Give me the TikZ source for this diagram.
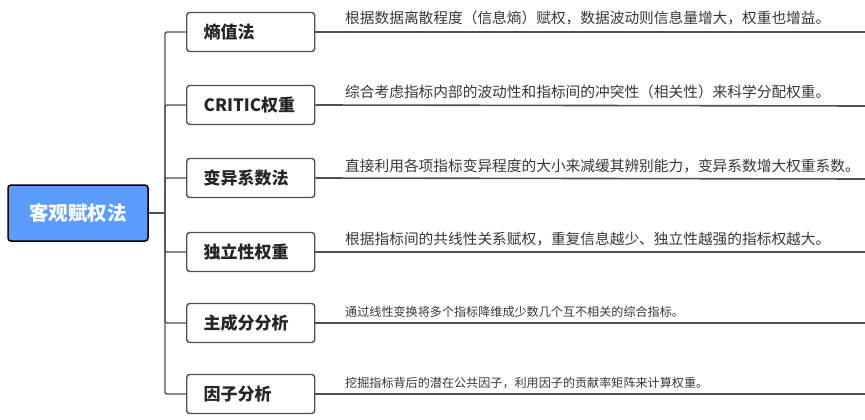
\documentclass[tikz,border=0pt]{standalone}
\usepackage{fontspec}
\setmainfont{Noto Sans CJK SC}
\newfontfamily\cjk{Noto Sans CJK SC}
\definecolor{rootblue}{RGB}{90,156,255}
\definecolor{linegray}{RGB}{80,80,80}
\definecolor{textgray}{RGB}{55,55,55}
\begin{document}
\begin{tikzpicture}[x=1pt,y=-1pt,
  rootbox/.style={draw=black, line width=1.5pt, fill=rootblue, rounded corners=3pt,
    minimum width=140pt, minimum height=56pt, inner sep=0pt,
    font=\cjk\bfseries\fontsize{19.5}{22}\selectfont, text=white},
  childbox/.style={draw=linegray, line width=1.4pt, fill=white, rounded corners=3pt,
    minimum width=128pt, minimum height=39pt, inner xsep=17pt, inner ysep=0pt, anchor=west,
    font=\cjk\bfseries\fontsize{17}{20}\selectfont, text=black!85},
  desc/.style={anchor=base west, inner sep=0pt, text=textgray,
    font=\cjk\fontsize{14.7}{17}\selectfont},
  descsmall/.style={desc, font=\cjk\fontsize{12.1}{14}\selectfont},
  conn/.style={draw=linegray, line width=1.4pt, rounded corners=2pt},
  rline/.style={draw=linegray, line width=1.6pt}
]
\useasboundingbox (0,0) rectangle (865,420);
\node[rootbox] (root) at (78,213) {客观赋权法};
\coordinate (j) at (165,213);
\draw[conn] (root.east) -- (j);

\node[childbox] (c1) at (186,32) {\makebox[94pt][l]{熵值法}};
\node[childbox] (c2) at (186,105) {\makebox[94pt][l]{CRITIC权重}};
\node[childbox] (c3) at (186,178) {\makebox[94pt][l]{变异系数法}};
\node[childbox] (c4) at (186,252) {\makebox[94pt][l]{独立性权重}};
\node[childbox] (c5) at (186,323) {\makebox[94pt][l]{主成分分析}};
\node[childbox] (c6) at (186,394) {\makebox[94pt][l]{因子分析}};

\foreach \i in {1,...,6} {\draw[conn] (j) |- (c\i.west);}

\coordinate (e1) at (865,32);
\coordinate (e2) at (865,106);
\coordinate (e3) at (865,179);
\coordinate (e4) at (865,252);
\coordinate (e5) at (865,323);
\coordinate (e6) at (865,394);
\foreach \i in {1,...,6} {\draw[rline] (c\i.east) -- (e\i);}

\node[desc] (d1) at (345,24) {根据数据离散程度（信息熵）赋权，数据波动则信息量增大，权重也增益。};
\node[desc] (d2) at (345,98) {综合考虑指标内部的波动性和指标间的冲突性（相关性）来科学分配权重。};
\node[desc] (d3) at (345,171) {直接利用各项指标变异程度的大小来减缓其辨别能力，变异系数增大权重系数。};
\node[desc] (d4) at (345,244) {根据指标间的共线性关系赋权，重复信息越少、独立性越强的指标权越大。};
\node[descsmall] (d5) at (345,316) {通过线性变换将多个指标降维成少数几个互不相关的综合指标。};
\node[descsmall] (d6) at (345,387) {挖掘指标背后的潜在公共因子，利用因子的贡献率矩阵来计算权重。};
\end{tikzpicture}
\end{document}
